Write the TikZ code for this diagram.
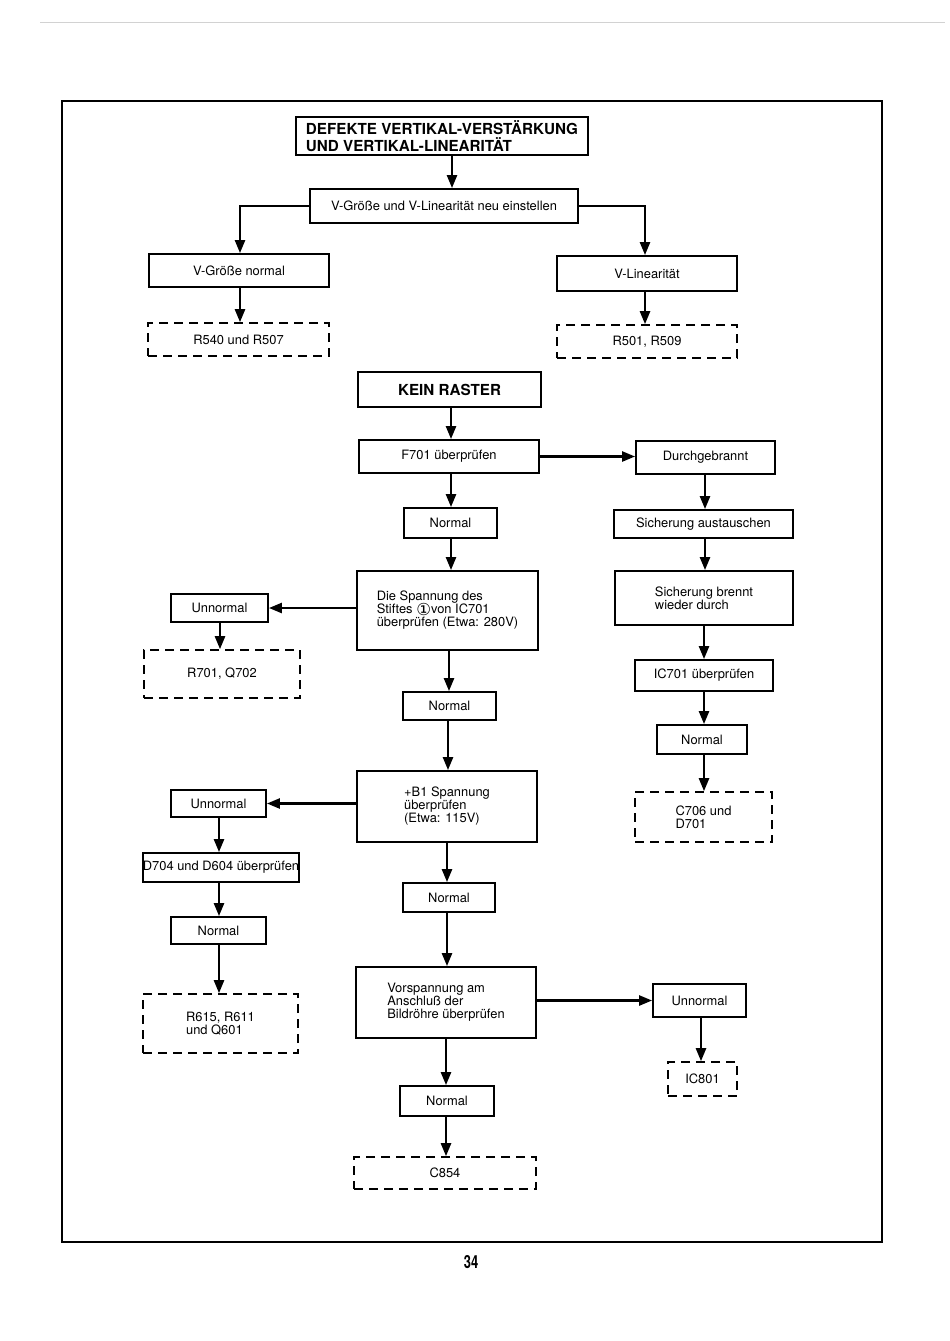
\documentclass[tikz,border=0pt]{standalone}
\usepackage{fontspec}
\setmainfont{TeX Gyre Heros}
\newfontfamily\dejavu{DejaVu Sans}
\usetikzlibrary{arrows.meta}
\newcommand\fs{\fontsize{12.9}{13}\selectfont}
\newcommand\bx[7]{\node[#6, minimum width={#4-#2}, minimum height={#5-#3}] (#1) at ({(#2+#4)/2},{(#3+#5)/2}) {#7};}
\newcommand\circone{\smash{\raisebox{-1.5pt}{\dejavu\fontsize{16.5}{13}\selectfont ①}}}
\tikzset{
  box/.style={draw, line width=1.8pt, inner sep=1pt, font=\fs, align=center},
  lbox/.style={box, align=left},
  dbox/.style={box, dash pattern=on 9pt off 6pt, line width=1.6pt},
  dlbox/.style={dbox, align=left},
  headbox/.style={box, font=\bfseries\fontsize{15.2}{16.5}\selectfont},
  arr/.style={line width=2.4pt, -{Triangle[length=13pt,width=10pt]}},
}
\begin{document}
\begin{tikzpicture}[x=1pt,y=-1pt]
\useasboundingbox[fill=white] (0,0) rectangle (950,1341);
\draw[gray!35, line width=0.6pt] (40,22) -- (945,22);
\draw[line width=1.6pt] (62,101) rectangle (882,1242);
% upper part
\bx{title}{296}{117}{588}{155}{headbox, align=left}{DEFEKTE VERTIKAL-VERSTÄRKUNG\\UND VERTIKAL-LINEARITÄT}
\bx{adj}{310}{189}{578}{223}{box}{V-Größe und V-Linearität neu einstellen}
\bx{vgn}{149}{254}{329}{287}{box}{V-Größe normal}
\bx{r540}{148}{323}{329}{356}{dbox}{R540 und R507}
\bx{vlin}{557}{256}{737}{291}{box}{V-Linearität}
\bx{r501}{557}{325}{737}{358}{dbox}{R501, R509}
% lower part
\bx{kein}{358}{372}{541}{407}{headbox, line width=2.6pt}{KEIN RASTER}
\bx{f701}{359}{440}{539}{473}{box}{F701 überprüfen}
\bx{durch}{636}{441}{775}{474}{box}{Durchgebrannt}
\bx{n1}{404}{508}{497}{538}{box}{Normal}
\bx{span}{357}{571}{538}{650}{lbox}{Die Spannung des\\Stiftes \circone von IC701\\überprüfen (Etwa: 280V)}
\bx{un1}{171}{594}{268}{622}{box}{Unnormal}
\bx{r701}{144}{650}{300}{698}{dbox}{R701, Q702}
\bx{n2}{403}{692}{496}{720}{box}{Normal}
\bx{b1}{357}{771}{537}{842}{lbox}{+B1 Spannung\\überprüfen\\(Etwa: 115V)}
\bx{un2}{171}{790}{266}{817}{box}{Unnormal}
\bx{d704}{143}{853}{299}{882}{box, inner sep=0pt}{D704 und D604 überprüfen}
\bx{n3}{171}{917}{266}{944}{box}{Normal}
\bx{r615}{143}{994}{298}{1053}{dlbox}{R615, R611\\und Q601}
\bx{n4}{403}{883}{495}{912}{box}{Normal}
\bx{vor}{356}{967}{536}{1038}{lbox}{Vorspannung am\\Anschluß der\\Bildröhre überprüfen}
\bx{un3}{653}{984}{746}{1017}{box}{Unnormal}
\bx{ic801}{668}{1062}{737}{1096}{dbox}{IC801}
\bx{n5}{400}{1086}{494}{1116}{box}{Normal}
\bx{c854}{354}{1157}{536}{1189}{dbox}{C854}
\bx{sich}{614}{510}{793}{538}{box}{Sicherung austauschen}
\bx{brennt}{615}{571}{793}{625}{lbox}{Sicherung brennt\\wieder durch}
\bx{ic701}{635}{660}{773}{691}{box}{IC701 überprüfen}
\bx{n6}{657}{725}{747}{754}{box}{Normal}
\bx{c706}{635}{792}{772}{842}{dlbox}{C706 und\\D701}
\node[font=\bfseries\fontsize{18}{18}\selectfont] (page) at (471,1262) {\scalebox{0.72}[1]{34}};
% connectors
\draw[arr] (452,0 |- title.south) -- (452,0 |- adj.north);
\draw[arr] (adj.west) -| (240,0 |- vgn.north);
\draw[arr] (adj.east) -| (645,0 |- vlin.north);
\draw[arr] (240,0 |- vgn.south) -- (240,0 |- r540.north);
\draw[arr] (645,0 |- vlin.south) -- (645,0 |- r501.north);
\draw[arr] (451,0 |- kein.south) -- (451,0 |- f701.north);
\draw[arr] (f701.east) -- (f701.east -| durch.west);
\draw[arr] (451,0 |- f701.south) -- (451,0 |- n1.north);
\draw[arr] (451,0 |- n1.south) -- (451,0 |- span.north);
\draw[arr] (span.west |- un1.east) -- (un1.east);
\draw[arr] (220,0 |- un1.south) -- (220,0 |- r701.north);
\draw[arr] (449,0 |- span.south) -- (449,0 |- n2.north);
\draw[arr] (448,0 |- n2.south) -- (448,0 |- b1.north);
\draw[arr] (b1.west |- un2.east) -- (un2.east);
\draw[arr] (219,0 |- un2.south) -- (219,0 |- d704.north);
\draw[arr] (219,0 |- d704.south) -- (219,0 |- n3.north);
\draw[arr] (219,0 |- n3.south) -- (219,0 |- r615.north);
\draw[arr] (447,0 |- b1.south) -- (447,0 |- n4.north);
\draw[arr] (447,0 |- n4.south) -- (447,0 |- vor.north);
\draw[arr] (vor.east |- un3.west) -- (un3.west);
\draw[arr] (701,0 |- un3.south) -- (701,0 |- ic801.north);
\draw[arr] (446,0 |- vor.south) -- (446,0 |- n5.north);
\draw[arr] (446,0 |- n5.south) -- (446,0 |- c854.north);
\draw[arr] (705,0 |- durch.south) -- (705,0 |- sich.north);
\draw[arr] (705,0 |- sich.south) -- (705,0 |- brennt.north);
\draw[arr] (704,0 |- brennt.south) -- (704,0 |- ic701.north);
\draw[arr] (704,0 |- ic701.south) -- (704,0 |- n6.north);
\draw[arr] (704,0 |- n6.south) -- (704,0 |- c706.north);
\end{tikzpicture}
\end{document}
